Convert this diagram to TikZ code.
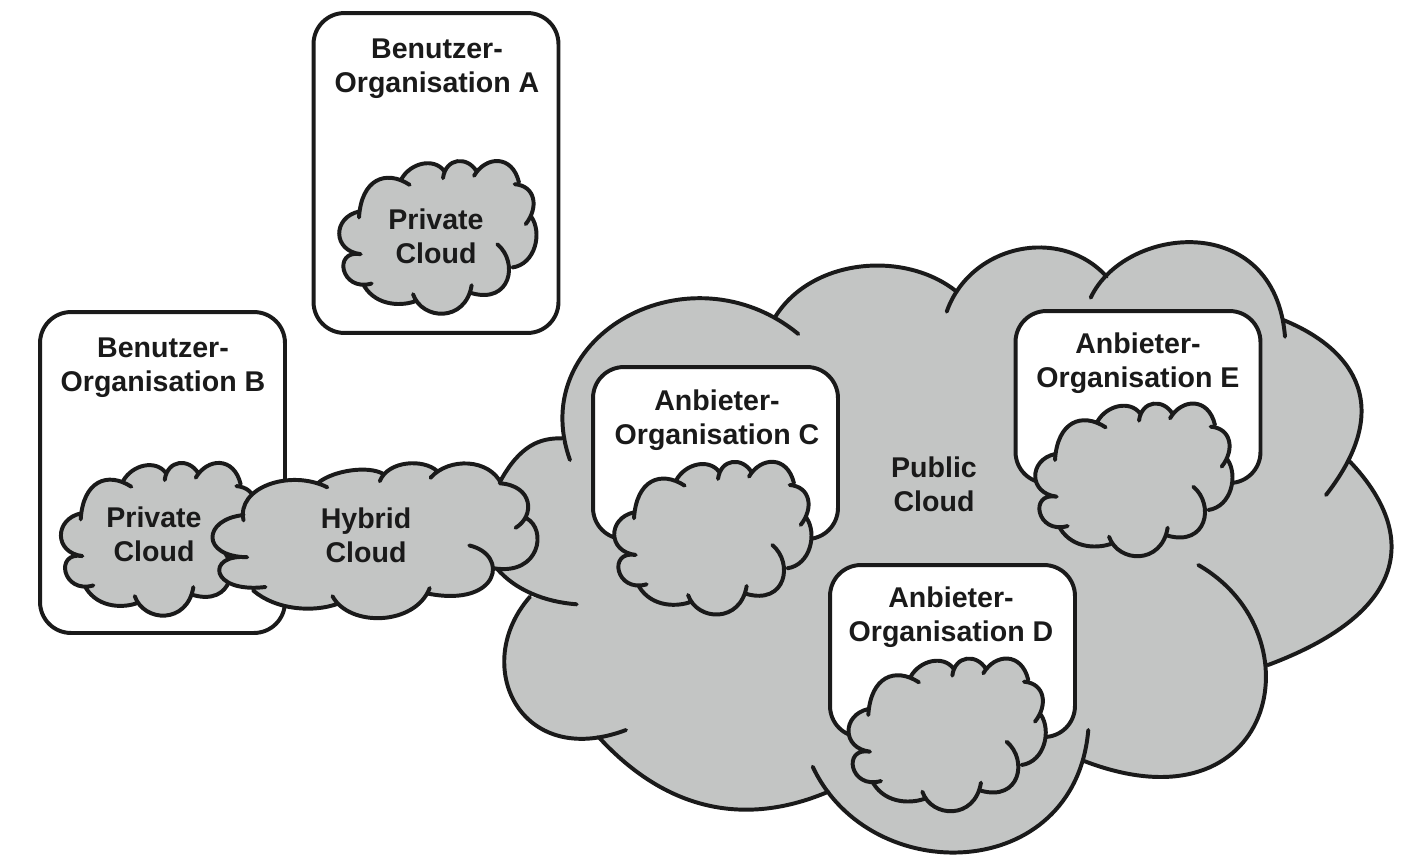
\documentclass[tikz,border=0pt]{standalone}
\usepackage{fontspec}
\setmainfont{Liberation Sans}[BoldFont={Liberation Sans Bold}]
\definecolor{cloudgrey}{HTML}{C3C5C4}
\definecolor{inkline}{HTML}{1A1A1A}
\tikzset{
  lobeline/.style={draw=inkline,line width=2.25pt,line cap=round,line join=round},
  lobefill/.style={fill=cloudgrey},
  orgbox/.style={draw=inkline,line width=2.25pt,fill=white,rounded corners=0.62cm,inner sep=0pt,outer sep=0pt,minimum width=4.9cm},
  label/.style={font=\fontsize{16.25}{19.35}\selectfont\bfseries,text=inkline,align=center,inner sep=0pt},
  zoomed/.style={x=0.0066667cm,y=-0.0066667cm},
  zoomedh/.style={x=0.0067613cm,y=-0.0067613cm}
}
\def\smallsegs{%
 (345,690) .. controls (352,575) and (425,545) .. (497,592) \J
 (472,575) .. controls (500,525) and (570,510) .. (600,550) \J
 (597,572) .. controls (605,510) and (670,505) .. (698,552) \J
 (690,565) .. controls (725,505) and (805,500) .. (825,585) \J
 (812,590) .. controls (875,595) and (885,660) .. (845,710) \J
 (862,688) .. controls (895,735) and (875,830) .. (805,840) \J
 (760,770) .. controls (825,825) and (800,950) .. (683,917) \J
 (683,893) .. controls (665,1005) and (535,1000) .. (507,920) \J
 (517,940) .. controls (480,955) and (400,960) .. (360,895) \J
 (383,888) .. controls (290,915) and (265,785) .. (350,800) \J
 (350,800) .. controls (265,790) and (265,690) .. (345,672)
}
\def\hybridsegs{%
 (632,238) .. controls (610,140) and (770,85) .. (880,140) \J
 (855,125) .. controls (900,90) and (1000,75) .. (1045,100) \J
 (1035,122) .. controls (1060,60) and (1165,55) .. (1205,92) \J
 (1185,112) .. controls (1240,50) and (1360,55) .. (1395,130) \J
 (1390,128) .. controls (1490,135) and (1495,225) .. (1437,260) \J
 (1470,232) .. controls (1530,265) and (1510,400) .. (1375,380) \J
 (1300,312) .. controls (1420,340) and (1390,495) .. (1180,455) \J
 (1183,438) .. controls (1140,550) and (945,555) .. (895,462) \J
 (910,485) .. controls (840,510) and (730,505) .. (660,445) \J
 (697,435) .. controls (530,455) and (520,335) .. (643,347) \J
 (643,347) .. controls (505,345) and (510,235) .. (632,222)
}
\def\publicsegs{%
 (570,460) .. controls (525,335) and (690,245) .. (798.3,334) \J
 (775.3,316.7) .. controls (812,258) and (905,250) .. (956.7,291.7) \J
 (946.7,311.7) .. controls (970,245) and (1060,225) .. (1106.7,276.7) \J
 (1090.7,297.7) .. controls (1125,225) and (1275,210) .. (1285,336.7) \J
 (1283.3,320) .. controls (1345,345) and (1400,400) .. (1326,495) \J
 (1350,461.7) .. controls (1415,530) and (1415,610) .. (1268,665) \J
 (1198.3,565) .. controls (1320,635) and (1275,835) .. (1083.3,760.7) \J
 (1088.3,730) .. controls (1075,884) and (870,889) .. (812.7,766.7) \J
 (828.3,791.7) .. controls (750,825) and (670,815) .. (598.3,736.7) \J
 (626,730) .. controls (520,770) and (470,665) .. (530,596.7) \J
 (576.7,604.3) .. controls (545,602) and (515,590) .. (496.7,568.3) \J
 (500,481.7) .. controls (520,445) and (540,438) .. (561.7,438.3)
}
\newcommand\smallcloud[2]{%
 \begin{scope}[shift={(#1,#2)}]
  \begin{scope}[zoomed,shift={(-570,-750)}]
   \def\J{--}\path[lobefill] \smallsegs -- cycle;
   \def\J{}\path[lobeline] \smallsegs;
  \end{scope}
 \end{scope}}
\begin{document}
\begin{tikzpicture}[x=0.02cm,y=-0.02cm]
\useasboundingbox (0,0) rectangle (1404,863);
\fill[white] (0,0) rectangle (1404,863);
% User organisation A
\node[orgbox,minimum height=6.4cm] (boxA) at (436,173) {};
\smallcloud{434}{237.5}
% User organisation B
\node[orgbox,minimum height=6.42cm] (boxB) at (162.5,472.5) {};
\smallcloud{155.7}{539.4}
% Public cloud
\def\J{--}\path[lobefill] \publicsegs -- cycle;
\def\J{}\path[lobeline] \publicsegs;
% Provider organisations
\node[orgbox,minimum height=3.44cm] (boxC) at (715.5,453) {};
\node[orgbox,minimum height=3.44cm] (boxD) at (952.5,651) {};
\node[orgbox,minimum height=3.44cm] (boxE) at (1138,397) {};
\smallcloud{709}{538.3}
\smallcloud{943.3}{735}
\smallcloud{1130}{480}
% Hybrid cloud
\begin{scope}[shift={(30,440)}]
 \begin{scope}[zoomedh]
  \def\J{--}\path[lobefill] \hybridsegs -- cycle;
  \def\J{}\path[lobeline] \hybridsegs;
 \end{scope}
\end{scope}
% Labels
\node[label] (tA) at (437,69) {Benutzer-\\Organisation A};
\node[label] (tPA) at (436,236) {Private\\Cloud};
\node[label] (tB) at (163,368) {Benutzer-\\Organisation B};
\node[label] (tPB) at (154,534) {Private\\Cloud};
\node[label] (tH) at (366,535) {Hybrid\\Cloud};
\node[label] (tP) at (934,484) {Public\\Cloud};
\node[label] (tC) at (717,420) {Anbieter-\\Organisation C};
\node[label] (tD) at (951,617) {Anbieter-\\Organisation D};
\node[label] (tE) at (1138,363) {Anbieter-\\Organisation E};
\end{tikzpicture}
\end{document}
